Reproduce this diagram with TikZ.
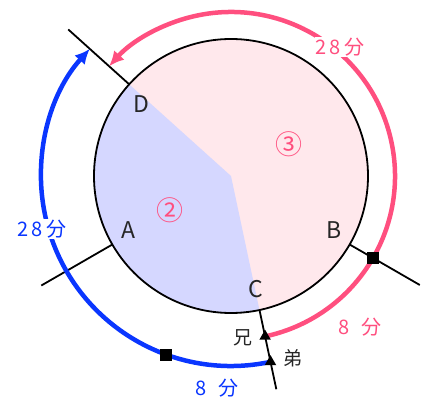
\documentclass[tikz,border=0pt]{standalone}
\usepackage{fontspec}
\setmainfont{Noto Sans CJK JP}
\usepackage{tikz}
\usetikzlibrary{arrows.meta, shapes.geometric}
\definecolor{pinkline}{HTML}{FF4F7F}
\definecolor{blueline}{HTML}{0A36FF}
\definecolor{pinkfill}{HTML}{FFE8EC}
\definecolor{bluefill}{HTML}{D5D7FF}

\begin{document}
\begin{tikzpicture}[
  x=1pt, y=1pt,
  ptlabel/.style={font=\fontsize{23}{23}\selectfont, text=black!85},
  kinlabel/.style={font=\fontsize{19}{19}\selectfont, text=black!85},
  timelabel/.style={font=\fontsize{20}{20}\selectfont, inner sep=1pt},
  arealabel/.style={font=\fontsize{27}{27}\selectfont, text=pinkline},
  radial/.style={line width=1.8pt, draw=black},
  pinkarc/.style={line width=4.5pt, draw=pinkline,
                  -{Latex[length=15pt, width=14pt]}},
  bluearc/.style={line width=4.5pt, draw=blueline,
                  -{Latex[length=15pt, width=14pt]}},
  sqmark/.style={draw=black, fill=black, minimum size=11pt, inner sep=0pt},
  trimark/.style={isosceles triangle, fill=black, inner sep=0pt,
                  minimum height=10pt, minimum width=11pt,
                  isosceles triangle apex angle=60, shape border rotate=102}
]
\useasboundingbox (-231,-225) rectangle (192,176);

% ---------------- Course ----------------
\fill[pinkfill] (0,0) circle[radius=137];
\fill[bluefill] (0,0) -- (138:137) arc[start angle=138, end angle=282, radius=137] -- cycle;
\draw[line width=1.8pt] (0,0) circle[radius=137];

% ---------------- Points on the course ----------------
\coordinate (O) at (0,0);
\coordinate (D) at (138:137);  \coordinate (Dout) at (138:219);
\coordinate (A) at (210:137);  \coordinate (Aout) at (210:219);
\coordinate (B) at (330:137);  \coordinate (Bout) at (330:218);
\coordinate (C) at (282:137);  \coordinate (Cout) at (282:218);

\draw[radial] (D) -- (Dout);
\draw[radial] (A) -- (Aout);
\draw[radial] (B) -- (Bout);
\draw[radial] (C) -- (Cout);

% ---------------- Runs ----------------
\coordinate (pinkstart) at (282:164);
\coordinate (bluestart) at (282:190);
\draw[pinkarc] (pinkstart) arc[start angle=-78, end angle=138, radius=164];
\draw[bluearc] (bluestart) arc[start angle=-78, end angle=-222, radius=190];

% ---------------- Marks ----------------
\node[sqmark] (sqpink) at (330:164) {};
\node[sqmark] (sqblue) at (250:190) {};
\node[trimark] (tripink) at (pinkstart) {};
\node[trimark] (triblue) at (bluestart) {};

% ---------------- Labels ----------------
\node[ptlabel] (lD) at (-90,72)   {D};
\node[ptlabel] (lA) at (-103,-54) {A};
\node[ptlabel] (lB) at (103,-54)  {B};
\node[ptlabel] (lC) at (25,-113)  {C};
\node[kinlabel] (ani)    at (12,-162) {兄};
\node[kinlabel] (otouto) at (62,-182) {弟};

\node[arealabel] (area2) at (-61,-34) {②};
\node[arealabel] (area3) at (58,32)   {③};

\node[timelabel, text=pinkline, fill=white] (tpink28) at (109,129)  {2\,8\,分};
\node[timelabel, text=pinkline] (tpink8)  at (129,-151) {8\;\;分};
\node[timelabel, text=blueline, fill=white] (tblue28) at (-189,-53) {2\,8\,分};
\node[timelabel, text=blueline] (tblue8)  at (-14,-212) {8\;\;分};

\end{tikzpicture}
\end{document}
